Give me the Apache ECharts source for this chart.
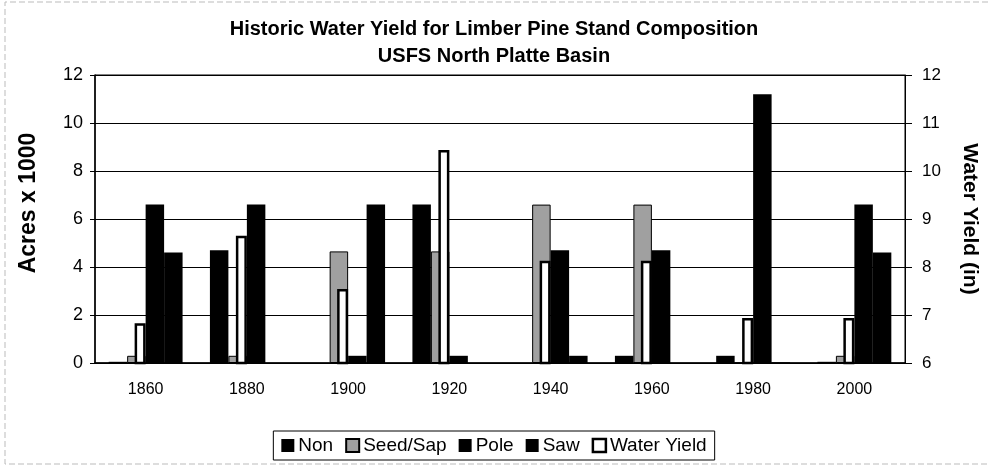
<!DOCTYPE html>
<html>
<head>
<meta charset="utf-8">
<script src="https://cdn.jsdelivr.net/npm/echarts@6/dist/echarts.min.js"></script>
<style>
  html, body { margin: 0; padding: 0; background: #fff; }
  #chart { width: 988px; height: 468px; }
</style>
</head>
<body>
<div id="chart"></div>
<script>
  const years = ['1860', '1880', '1900', '1920', '1940', '1960', '1980', '2000']
  const non = [0.05, 4.7, 0, 6.6, 0, 0.3, 0.3, 0.05]
  const seedSap = [0.3, 0.3, 4.65, 4.65, 6.6, 6.6, 0, 0.3]
  const pole = [6.6, 6.6, 0.3, 0.3, 4.7, 4.7, 11.2, 6.6]
  const saw = [4.6, 0, 6.6, 0, 0.3, 0, 0.03, 4.6]
  const waterYield = [6.83, 8.65, 7.54, 10.44, 8.13, 8.13, 6.94, 6.94]

  const font = 'Liberation Sans, Arial, sans-serif'

  let blackBar = (name, data) => ({
    name,
    type: 'bar',
    xAxisIndex: 0,
    yAxisIndex: 0,
    barGap: '0%',
    barCategoryGap: '27%',
    itemStyle: { color: '#000' },
    data
  })

  let option = {
    animation: false,
    textStyle: { fontFamily: font },
    title: {
      text: 'Historic Water Yield for Limber Pine Stand Composition\nUSFS North Platte Basin',
      left: 'center',
      top: 11,
      textStyle: {
        fontFamily: font,
        fontWeight: 'bold',
        fontSize: 20,
        lineHeight: 27,
        color: '#000'
      }
    },
    legend: {
      data: [
        { name: 'Non' },
        { name: 'Seed/Sap' },
        { name: 'Pole' },
        { name: 'Saw' },
        { name: 'Water Yield', itemStyle: { color: '#fff', borderColor: '#000', borderWidth: 2.5 } }
      ],
      bottom: 8,
      left: 'center',
      icon: 'rect',
      itemWidth: 13,
      itemHeight: 13,
      itemGap: 12,
      padding: [5, 8],
      borderColor: '#000',
      borderWidth: 1,
      textStyle: { fontFamily: font, fontSize: 19, color: '#000', padding: [0, 0, 0, -1] }
    },
    grid: {
      left: 95,
      right: 78,
      top: 75,
      bottom: 105,
      show: true,
      borderColor: '#000',
      borderWidth: 1,
      containLabel: false
    },
    xAxis: [{
      type: 'category',
      data: years,
      axisLine: { lineStyle: { color: '#000', width: 1.5 } },
      axisTick: { length: 5, lineStyle: { color: '#000' } },
      axisLabel: { color: '#000', fontSize: 16, margin: 19, fontFamily: font }
    }, {
      type: 'category',
      data: years,
      show: false
    }],
    yAxis: [{
      type: 'value',
      min: 0,
      max: 12,
      interval: 2,
      name: 'Acres x 1000',
      nameLocation: 'middle',
      nameGap: 55,
      nameTextStyle: { fontFamily: font, fontWeight: 'bold', fontSize: 23, color: '#000', padding: [0, 0, 0, 32] },
      axisLine: { show: true, lineStyle: { color: '#000', width: 1.5 } },
      axisTick: { show: true, length: 5, lineStyle: { color: '#000' } },
      axisLabel: { color: '#000', fontSize: 18, margin: 12, fontFamily: font },
      splitLine: { lineStyle: { color: '#000', width: 1 } }
    }, {
      type: 'value',
      min: 6,
      max: 12,
      interval: 1,
      position: 'right',
      name: 'Water Yield (in)',
      nameLocation: 'middle',
      nameRotate: -90,
      nameGap: 54,
      nameTextStyle: { fontFamily: font, fontWeight: 'bold', fontSize: 21, color: '#000' },
      axisLine: { show: true, lineStyle: { color: '#000', width: 1 } },
      axisTick: { show: true, length: 7, lineStyle: { color: '#000' } },
      axisLabel: { color: '#000', fontSize: 17, margin: 17, fontFamily: font },
      splitLine: { show: false }
    }],
    graphic: [{
      // faint scanned frame on left, top and bottom
      type: 'polyline',
      shape: { points: [[988, 2], [5, 2], [5, 464], [988, 464]] },
      style: { fill: 'none', stroke: '#bbb', lineWidth: 1, lineDash: [6, 3] },
      silent: true,
      z: -1
    }],
    series: [
      blackBar('Non', non),
      {
        name: 'Seed/Sap',
        type: 'bar',
        xAxisIndex: 0,
        yAxisIndex: 0,
        itemStyle: { color: '#a0a0a0', borderColor: '#000', borderWidth: 1 },
        data: seedSap
      },
      blackBar('Pole', pole),
      blackBar('Saw', saw),
      {
        name: 'Water Yield',
        type: 'bar',
        xAxisIndex: 1,
        yAxisIndex: 1,
        barWidth: 11,
        barGap: '0%',
        z: 3,
        itemStyle: { color: '#fff', borderColor: '#000', borderWidth: 2.5 },
        data: waterYield
      },
      {
        // empty spacer so the water bar sits a little left of centre
        name: 'spacer',
        type: 'bar',
        xAxisIndex: 1,
        yAxisIndex: 1,
        barWidth: 11,
        data: []
      }
    ]
  }

  let chart = echarts.init(document.getElementById('chart'))
  chart.setOption(option)
</script>
</body>
</html>
